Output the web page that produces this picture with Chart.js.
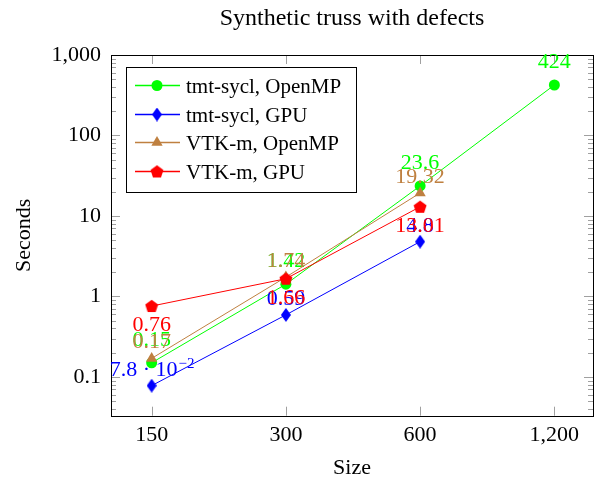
<!DOCTYPE html>
<html><head><meta charset="utf-8">
<script src="https://cdn.jsdelivr.net/npm/chart.js@4/dist/chart.umd.min.js"></script>
<style>html,body{margin:0;padding:0;background:#fff}#wrap{width:600px;height:482px}</style>
</head><body><div id="wrap"><canvas id="c" width="600" height="482"></canvas></div>
<script>
// ---- data ----
const chartTitle = 'Synthetic truss with defects';
const xTitle = 'Size';
const yTitle = 'Seconds';
const sizes = [150, 300, 600, 1200];
const seriesNames = ['tmt-sycl, OpenMP', 'tmt-sycl, GPU', 'VTK-m, OpenMP', 'VTK-m, GPU'];
const tmtOpenMP = [0.15, 1.42, 23.6, 424];
const tmtGPU = [0.078, 0.59, 4.8];
const vtkOpenMP = [0.17, 1.74, 19.32];
const vtkGPU = [0.76, 1.66, 13.01];
const xTickValues = [150, 300, 600, 1200];
const yTickValues = [0.1, 1, 10, 100, 1000];

// ---- styles ----
const FONT = "'Liberation Serif', 'Times New Roman', serif";
const FS = 22;
const colors = ['#00ff00', '#0000ff', '#bf8040', '#ff0000'];

function makeDiamond(color){
  const c = document.createElement('canvas'); c.width = 10; c.height = 14;
  const g = c.getContext('2d'); g.fillStyle = color; g.beginPath();
  g.moveTo(5,0); g.lineTo(10,7); g.lineTo(5,14); g.lineTo(0,7); g.closePath(); g.fill();
  return c;
}
function makePentagon(color){
  const c = document.createElement('canvas'); c.width = 14; c.height = 14;
  const g = c.getContext('2d'); g.fillStyle = color; g.beginPath();
  for (let k=0;k<5;k++){ const a = -Math.PI/2 + k*2*Math.PI/5; const px = 7+6.8*Math.cos(a), py = 7.6+6.8*Math.sin(a); k?g.lineTo(px,py):g.moveTo(px,py); }
  g.closePath(); g.fill(); return c;
}
const pointStyles = ['circle', makeDiamond(colors[1]), 'triangle', makePentagon(colors[3])];
const pointRadii = [5.5, 6, 6.5, 7];
const labelGap = [17, 10, 10, -10];

const seriesValues = [tmtOpenMP, tmtGPU, vtkOpenMP, vtkGPU];
const datasets = seriesValues.map((vals, i) => ({
  label: seriesNames[i],
  data: vals.map((v, j) => ({x: sizes[j], y: v})),
  borderColor: colors[i], backgroundColor: colors[i],
  borderWidth: 1, pointStyle: pointStyles[i], pointRadius: pointRadii[i],
  pointBorderWidth: 0, pointBackgroundColor: colors[i], pointBorderColor: colors[i],
  order: 3 - i, clip: false, tension: 0
}));

function fmt(v){
  if (v < 0.1){ const e = Math.floor(Math.log10(v)); const m = v/Math.pow(10,e);
    return {main: m.toFixed(1) + '\u2005\u00b7\u2005' + '10', sup: '\u2212' + (-e)}; }
  return {main: String(v)};
}

const framePlugin = {
  id: 'frame',
  beforeDatasetsDraw(chart){
    const {ctx, chartArea: a, scales: {x, y}} = chart;
    ctx.save();
    ctx.strokeStyle = '#a0a0a0'; ctx.lineWidth = 1; ctx.beginPath();
    const e0 = Math.floor(Math.log10(y.min)), e1 = Math.ceil(Math.log10(y.max));
    for (let e = e0; e <= e1; e++){
      for (let m = 1; m < 10; m++){
        const v = m*Math.pow(10,e);
        if (v < y.min || v > y.max) continue;
        const py = Math.round(y.getPixelForValue(v)) + 0.5;
        const len = m === 1 ? 9 : 5;
        ctx.moveTo(a.left, py); ctx.lineTo(a.left+len, py);
        ctx.moveTo(a.right, py); ctx.lineTo(a.right-len, py);
      }
    }
    xTickValues.forEach(v => { const px = Math.round(x.getPixelForValue(v)) + 0.5;
      ctx.moveTo(px, a.bottom); ctx.lineTo(px, a.bottom-9);
      ctx.moveTo(px, a.top); ctx.lineTo(px, a.top+9); });
    ctx.stroke();
    ctx.strokeStyle = '#000';
    ctx.strokeRect(Math.round(a.left)+0.5, Math.round(a.top)+0.5, Math.round(a.right-a.left), Math.round(a.bottom-a.top));
    // title
    ctx.fillStyle = '#000'; ctx.font = '24px ' + FONT; ctx.textAlign = 'center'; ctx.textBaseline = 'alphabetic';
    ctx.fillText(chartTitle, (a.left + a.right)/2, 25);
    ctx.restore();
  },
  afterDatasetDraw(chart, args){
    const i = args.index; const meta = args.meta; const ctx = chart.ctx;
    ctx.save(); ctx.fillStyle = colors[i]; ctx.textBaseline = 'alphabetic'; ctx.textAlign = 'left';
    meta.data.forEach((pt, j) => {
      const v = seriesValues[i][j]; const f = fmt(v);
      ctx.font = FS + 'px ' + FONT;
      const w1 = ctx.measureText(f.main).width;
      let w2 = 0;
      if (f.sup){ ctx.font = Math.round(FS*0.7) + 'px ' + FONT; w2 = ctx.measureText(f.sup).width; }
      const x0 = pt.x - (w1 + w2)/2;
      const gap = labelGap[i];
      const yb = gap > 0 ? pt.y - gap : pt.y - gap + 15;
      ctx.font = FS + 'px ' + FONT; ctx.fillText(f.main, x0, yb);
      if (f.sup){ ctx.font = Math.round(FS*0.7) + 'px ' + FONT; ctx.fillText(f.sup, x0 + w1 + 1, yb - 8); }
    });
    ctx.restore();
  },
  afterDraw(chart){
    const ctx = chart.ctx;
    const L = 126, T = 67, R = 356, B = 192;
    ctx.save();
    ctx.fillStyle = '#fff'; ctx.fillRect(L, T, R-L, B-T);
    ctx.strokeStyle = '#000'; ctx.lineWidth = 1; ctx.strokeRect(L+0.5, T+0.5, R-L, B-T);
    chart.data.datasets.forEach((ds, i) => {
      const cy = Math.round(T + 18 + i*28.7) + 0.5;
      ctx.strokeStyle = colors[i]; ctx.lineWidth = 1.5; ctx.beginPath();
      ctx.moveTo(135, cy); ctx.lineTo(180, cy); ctx.stroke();
      ctx.fillStyle = colors[i]; ctx.strokeStyle = colors[i];
      Chart.helpers.drawPoint(ctx, {pointStyle: pointStyles[i], radius: pointRadii[i], borderWidth: 0, rotation: 0}, 157, cy);
      ctx.fillStyle = '#000'; ctx.font = '21px ' + FONT; ctx.textAlign = 'left'; ctx.textBaseline = 'alphabetic';
      ctx.fillText(ds.label, 186, cy + 7);
    });
    ctx.restore();
  }
};

const tickFont = {family: FONT, size: FS};
new Chart(document.getElementById('c'), {
  type: 'line',
  data: {datasets},
  options: {
    responsive: false, animation: false, devicePixelRatio: 1,
    layout: {padding: {top: 55, right: 4, left: 0, bottom: 0}},
    plugins: {legend: {display: false}, tooltip: {enabled: false}, title: {display: false}},
    elements: {line: {fill: false}},
    scales: {
      x: {
        type: 'logarithmic', min: 121.6, max: 1465,
        grid: {display: false, drawTicks: false}, border: {display: false},
        afterBuildTicks: s => { s.ticks = xTickValues.map(v => ({value: v})); },
        afterFit: s => { s.height = 66.3; },
        ticks: {font: tickFont, color: '#000', padding: 6, autoSkip: false, maxRotation: 0,
          callback: v => Number(v).toLocaleString('en-US')},
        title: {display: true, text: xTitle, font: tickFont, color: '#000', padding: {top: 0, bottom: 1}}
      },
      y: {
        type: 'logarithmic', min: 0.033, max: 1000,
        grid: {display: false, drawTicks: false}, border: {display: false},
        afterBuildTicks: s => { s.ticks = yTickValues.map(v => ({value: v})); },
        afterFit: s => { s.width = 111; },
        ticks: {font: tickFont, color: '#000', padding: 10, autoSkip: false,
          callback: v => Number(v).toLocaleString('en-US')},
        title: {display: true, text: yTitle, font: tickFont, color: '#000', padding: {top: 11, bottom: 0}}
      }
    }
  },
  plugins: [framePlugin]
});
</script></body></html>
